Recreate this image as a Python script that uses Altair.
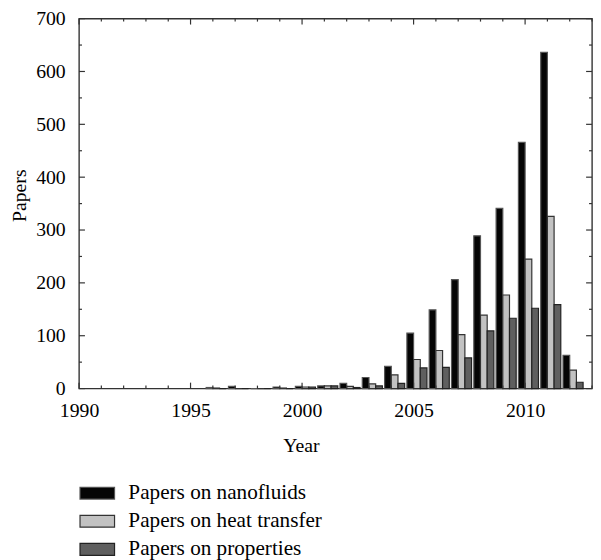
import altair as alt
import pandas as pd

years = list(range(1996, 2013))
nanofluids = [2, 4, 0, 3, 4, 5, 10, 21, 42, 105, 149, 206, 289, 341, 466, 636, 63]
heat_transfer = [1, 0, 0, 1, 3, 5, 4, 9, 26, 55, 72, 102, 139, 177, 245, 326, 35]
properties = [0, 0, 0, 0, 3, 5, 2, 5, 10, 39, 40, 58, 109, 133, 152, 159, 12]

series_names = ["Papers on nanofluids", "Papers on heat transfer", "Papers on properties"]
fills = ["#050505", "#c2c2c2", "#5f5f5f"]
strokes = ["#555555", "#333333", "#222222"]

y_ticks = list(range(0, 701, 50))
x_ticks = list(range(1990, 2014))
x_labels = [1990, 1995, 2000, 2005, 2010]
y_labels = list(range(0, 701, 100))

rows = []
for idx, (name, vals) in enumerate(zip(series_names, [nanofluids, heat_transfer, properties])):
    for yr, v in zip(years, vals):
        rows.append({"Year": yr, "Series": name, "idx": idx, "Papers": v})
df = pd.DataFrame(rows)

FONT = "Liberation Serif"
FS = 20
W, H = 520, 375
X_DOM = [1990, 2013]
Y_DOM = [0, 700]

xscale = alt.Scale(domain=X_DOM, nice=False, zero=False)
yscale = alt.Scale(domain=Y_DOM, nice=False)
xaxis = alt.Axis(title="Year", values=x_labels, format="d", ticks=False, domain=False,
                 grid=False, labelPadding=12, titlePadding=16, labelFlush=False,
                 titleX=225, titleAlign="center")
yaxis = alt.Axis(title="Papers", values=y_labels, ticks=False, domain=False, grid=False,
                 labelPadding=14, labelFlush=False,
                 titleX=-60, titleY=179, titleAngle=270, titleAlign="center",
                 titleBaseline="middle")

leg = alt.Legend(
    title=None, orient="none", legendX=7.5, legendY=470,
    symbolType="M-1.75,-0.6H1.75V0.6H-1.75Z", symbolSize=400, symbolStrokeWidth=1.2,
    labelFont=FONT, labelFontSize=21.5, labelColor="black", labelOffset=20.5,
    labelLimit=0, rowPadding=6.5, symbolOpacity=1,
)

bars = alt.Chart(df).transform_calculate(
    x0="datum.Year - 0.3 + 0.3 * datum.idx",
    x1="datum.Year + 0.3 * datum.idx",
).mark_bar(strokeWidth=1.2, opacity=1).encode(
    x=alt.X("x0:Q", scale=xscale, axis=xaxis),
    x2="x1:Q",
    y=alt.Y("Papers:Q", scale=yscale, axis=yaxis),
    y2=alt.datum(0),
    fill=alt.Fill("Series:N", scale=alt.Scale(domain=series_names, range=fills), legend=leg),
    stroke=alt.Stroke("Series:N", scale=alt.Scale(domain=series_names, range=strokes), legend=leg),
)

ydf = pd.DataFrame({"v": y_ticks})
ydf["major"] = [v % 100 == 0 for v in y_ticks]
xdf = pd.DataFrame({"v": x_ticks})
xdf["major"] = [v % 5 == 0 for v in x_ticks]

tick_color = "#333333"

def hticks(side, major):
    d = ydf[ydf["major"] == major]
    ln = 6 if major else 3
    if side == "left":
        xv, x2v = 0, ln
    else:
        xv, x2v = W, W - ln
    return alt.Chart(d).mark_rule(color=tick_color, strokeWidth=1.2).encode(
        y=alt.Y("v:Q", scale=yscale, axis=yaxis),
        x=alt.value(xv), x2=alt.value(x2v),
    )

def vticks(side, major):
    d = xdf[xdf["major"] == major]
    ln = 6 if major else 3
    if side == "bottom":
        yv, y2v = H, H - ln
    else:
        yv, y2v = 0, ln
    return alt.Chart(d).mark_rule(color=tick_color, strokeWidth=1.2).encode(
        x=alt.X("v:Q", scale=xscale, axis=xaxis),
        y=alt.value(yv), y2=alt.value(y2v),
    )

tick_layers = [hticks(s, m) for s in ("left", "right") for m in (True, False)] + \
              [vticks(s, m) for s in ("bottom", "top") for m in (True, False)]

chart = alt.layer(bars, *tick_layers).properties(
    width=W, height=H,
    autosize=alt.AutoSizeParams(type="none"),
    padding={"left": 72, "top": 7, "right": 1, "bottom": 170},
).configure_view(
    stroke="#333333", strokeWidth=1.4
).configure_axis(
    labelFont=FONT, labelFontSize=FS, labelColor="black",
    titleFont=FONT, titleFontSize=FS, titleFontWeight="normal", titleColor="black",
).configure_legend(
    labelFont=FONT, labelFontSize=21.5,
)

chart.save("out.html", embed_options={"renderer": "svg", "actions": False})
